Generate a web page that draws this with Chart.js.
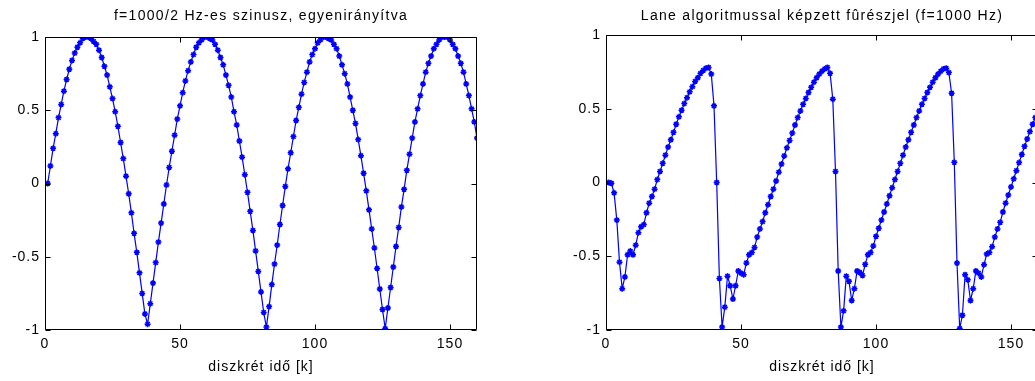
<!DOCTYPE html>
<html>
<head>
<meta charset="utf-8">
<script src="https://cdn.jsdelivr.net/npm/chart.js@4.4.1/dist/chart.umd.min.js"></script>
<style>
  html, body { margin: 0; padding: 0; background: #fff; overflow: hidden; }
  body { width: 1035px; height: 381px; position: relative; }
  canvas { position: absolute; top: 0; }
  #chart-sine { left: 0; }
  #chart-lane { left: 520px; }
</style>
</head>
<body>
<canvas id="chart-sine" width="520" height="381"></canvas>
<canvas id="chart-lane" width="530" height="381"></canvas>
<script>
// values, samples k = 1..160
const sineValues = [
  0.00, 0.12, 0.24, 0.34, 0.45, 0.54, 0.63, 0.71, 0.78, 0.84,
  0.89, 0.93, 0.96, 0.99, 1.00, 1.00, 0.99, 0.97, 0.95, 0.91,
  0.86, 0.80, 0.74, 0.66, 0.58, 0.49, 0.39, 0.28, 0.17, 0.05,
  -0.07, -0.20, -0.34, -0.47, -0.61, -0.75, -0.89, -0.96, -0.82, -0.68,
  -0.54, -0.40, -0.27, -0.14, -0.01, 0.11, 0.22, 0.33, 0.44, 0.53,
  0.62, 0.70, 0.77, 0.83, 0.88, 0.93, 0.96, 0.98, 1.00, 1.00,
  0.99, 0.98, 0.95, 0.91, 0.86, 0.81, 0.74, 0.67, 0.59, 0.49,
  0.40, 0.29, 0.18, 0.06, -0.06, -0.19, -0.32, -0.46, -0.60, -0.74,
  -0.88, -0.98, -0.84, -0.69, -0.55, -0.42, -0.28, -0.15, -0.02, 0.10,
  0.21, 0.32, 0.43, 0.52, 0.61, 0.69, 0.76, 0.83, 0.88, 0.92,
  0.96, 0.98, 1.00, 1.00, 0.99, 0.98, 0.95, 0.92, 0.87, 0.81,
  0.75, 0.68, 0.59, 0.50, 0.41, 0.30, 0.19, 0.07, -0.05, -0.18,
  -0.31, -0.44, -0.58, -0.72, -0.86, -0.99, -0.85, -0.71, -0.57, -0.43,
  -0.30, -0.16, -0.04, 0.09, 0.20, 0.31, 0.42, 0.51, 0.60, 0.68,
  0.76, 0.82, 0.87, 0.92, 0.95, 0.98, 1.00, 1.00, 1.00, 0.98,
  0.95, 0.92, 0.87, 0.82, 0.76, 0.68, 0.60, 0.51, 0.42, 0.31
];

const laneValues = [
  0.00, -0.005, -0.07, -0.255, -0.54, -0.72, -0.64, -0.49, -0.465, -0.49,
  -0.425, -0.34, -0.30, -0.285, -0.205, -0.14, -0.095, -0.045, 0.02, 0.075,
  0.13, 0.185, 0.24, 0.29, 0.34, 0.395, 0.445, 0.49, 0.535, 0.575,
  0.615, 0.65, 0.685, 0.71, 0.74, 0.76, 0.775, 0.78, 0.735, 0.52,
  0.00, -0.65, -0.98, -0.845, -0.635, -0.70, -0.79, -0.70, -0.60, -0.615,
  -0.625, -0.545, -0.49, -0.475, -0.44, -0.37, -0.315, -0.265, -0.205, -0.15,
  -0.095, -0.045, 0.01, 0.07, 0.125, 0.18, 0.235, 0.285, 0.335, 0.39,
  0.44, 0.485, 0.53, 0.57, 0.61, 0.645, 0.68, 0.71, 0.735, 0.755,
  0.77, 0.78, 0.74, 0.565, 0.075, -0.60, -0.98, -0.87, -0.635, -0.67,
  -0.80, -0.72, -0.60, -0.61, -0.63, -0.555, -0.49, -0.475, -0.43, -0.365,
  -0.31, -0.255, -0.20, -0.145, -0.09, -0.035, 0.02, 0.075, 0.13, 0.185,
  0.24, 0.29, 0.34, 0.39, 0.44, 0.485, 0.53, 0.57, 0.61, 0.645,
  0.68, 0.71, 0.735, 0.755, 0.77, 0.775, 0.745, 0.605, 0.137, -0.546,
  -0.99, -0.90, -0.625, -0.66, -0.80, -0.72, -0.60, -0.615, -0.64, -0.557,
  -0.485, -0.475, -0.435, -0.37, -0.315, -0.27, -0.20, -0.14, -0.085, -0.03,
  0.025, 0.08, 0.135, 0.19, 0.245, 0.295, 0.345, 0.395, 0.44, 0.48
];

const xTicks = [0, 50, 100, 150];
const yTicks = [-1, -0.5, 0, 0.5, 1];
const xLabel = 'diszkrét idő [k]';
const sineTitle = 'f=1000/2 Hz-es szinusz, egyenirányítva';
const laneTitle = 'Lane algoritmussal képzett fûrészjel (f=1000 Hz)';

const FONT = "'Liberation Sans', Arial, Helvetica, sans-serif";
const BLUE = '#0000ff';

// MATLAB-like box with inward ticks, title and x label
const matlabFrame = {
  id: 'matlabFrame',
  beforeDraw(chart) {
    // wider letter spacing, like the screen font of the original
    chart.ctx.letterSpacing = '1px';
  },
  afterDraw(chart, args, opts) {
    const { ctx, chartArea: a } = chart;
    const x = chart.scales.x;
    const y = chart.scales.y;
    const l = Math.round(a.left) + 0.5;
    const r = Math.round(a.right) - 0.5;
    const t = Math.round(a.top) + 0.5;
    const b = Math.round(a.bottom) - 0.5;
    ctx.save();
    ctx.strokeStyle = '#000';
    ctx.lineWidth = 1;
    ctx.beginPath();
    ctx.rect(l, t, r - l, b - t);
    for (const tick of x.ticks) {
      const px = Math.round(x.getPixelForValue(tick.value)) + 0.5;
      ctx.moveTo(px, b); ctx.lineTo(px, b - 5);
      ctx.moveTo(px, t); ctx.lineTo(px, t + 5);
    }
    for (const tick of y.ticks) {
      const py = Math.round(y.getPixelForValue(tick.value)) + 0.5;
      ctx.moveTo(l, py); ctx.lineTo(l + 5, py);
      ctx.moveTo(r, py); ctx.lineTo(r - 5, py);
    }
    ctx.stroke();

    const cx = (a.left + a.right) / 2;
    ctx.fillStyle = '#000';
    ctx.textAlign = 'center';
    ctx.textBaseline = 'middle';
    ctx.font = `14px ${FONT}`;
    ctx.letterSpacing = '1.3px';
    ctx.fillText(opts.title, cx, 16);
    ctx.letterSpacing = '1px';
    ctx.fillText(opts.xLabel, cx, 367);
    ctx.restore();
  },
};

function makePanel(canvas, values, title, frame) {
  const points = values.map((v, i) => ({ x: i + 1, y: v }));
  return new Chart(canvas, {
    type: 'line',
    data: {
      datasets: [{
        data: points,
        borderColor: BLUE,
        borderWidth: 1.2,
        pointStyle: 'star',
        pointRadius: 3,
        pointBorderWidth: 1.5,
        pointBorderColor: BLUE,
        pointBackgroundColor: BLUE,
        tension: 0,
      }],
    },
    options: {
      responsive: false,
      animation: false,
      devicePixelRatio: 1,
      layout: { padding: { left: 0, right: frame.padRight, top: frame.top, bottom: 0 } },
      plugins: {
        legend: { display: false },
        tooltip: { enabled: false },
        matlabFrame: { title, xLabel },
      },
      scales: {
        x: {
          type: 'linear',
          min: 0,
          max: 160,
          grid: { display: false, drawTicks: false },
          border: { display: false },
          afterBuildTicks: (s) => { s.ticks = xTicks.map((v) => ({ value: v })); },
          afterFit: (s) => { s.height = 381 - frame.bottom; },
          ticks: {
            color: '#000', font: { family: FONT, size: 14 }, padding: 6, maxRotation: 0,
            callback: (v) => String(v),
          },
        },
        y: {
          min: -1,
          max: 1,
          grid: { display: false, drawTicks: false },
          border: { display: false },
          afterBuildTicks: (s) => { s.ticks = yTicks.map((v) => ({ value: v })); },
          afterFit: (s) => { s.width = frame.yWidth; },
          ticks: {
            color: '#000', font: { family: FONT, size: 14 }, padding: 5,
            callback: (v) => String(v),
          },
        },
      },
    },
    plugins: [matlabFrame],
  });
}

makePanel(document.getElementById('chart-sine'), sineValues, sineTitle,
  { yWidth: 45, padRight: 520 - 477, top: 37, bottom: 330 });
makePanel(document.getElementById('chart-lane'), laneValues, laneTitle,
  { yWidth: 86, padRight: 530 - 518, top: 35, bottom: 330 });
</script>
</body>
</html>
